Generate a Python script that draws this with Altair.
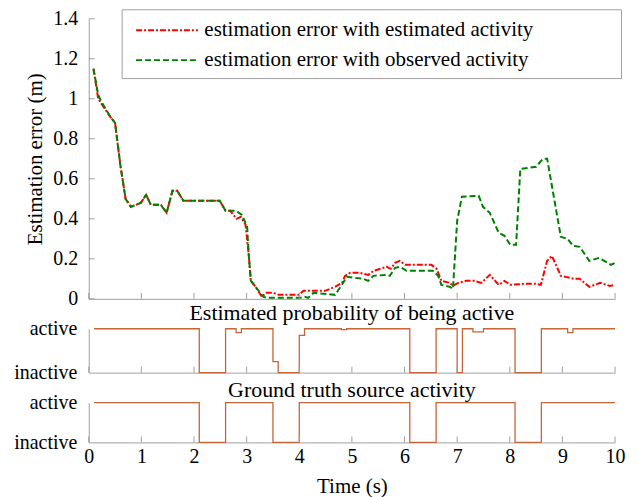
import altair as alt
import pandas as pd

FONT = "Liberation Serif"
GREY = "#a0a0a0"
STEP = "#c5653a"

# estimation error (m) with the estimated activity
est_t = [0.09, 0.18, 0.23, 0.41, 0.50, 0.60, 0.70, 0.80, 0.99, 1.09, 1.18, 1.37, 1.48, 1.59,
         1.68, 1.80, 2.49, 2.60, 2.69, 2.81, 2.89, 2.98, 3.04, 3.08, 3.17, 3.29, 3.37, 3.51,
         3.61, 3.99, 4.08, 4.49, 4.68, 4.81, 4.87, 4.97, 5.15, 5.31, 5.41, 5.66, 5.74, 5.82,
         5.91, 6.01, 6.51, 6.61, 6.70, 6.86, 6.92, 7.02, 7.17, 7.33, 7.46, 7.62, 7.79, 7.90,
         8.01, 8.27, 8.50, 8.59, 8.71, 8.80, 8.97, 9.06, 9.22, 9.33, 9.51, 9.72, 9.90, 10.0]
est_err = [1.15, 1.00, 0.98, 0.91, 0.88, 0.67, 0.50, 0.46, 0.48, 0.52, 0.47, 0.47, 0.43, 0.54,
           0.54, 0.49, 0.49, 0.44, 0.44, 0.40, 0.41, 0.37, 0.22, 0.09, 0.06, 0.01, 0.03, 0.03,
           0.02, 0.02, 0.04, 0.04, 0.06, 0.08, 0.115, 0.13, 0.13, 0.12, 0.14, 0.16, 0.15, 0.18,
           0.19, 0.17, 0.17, 0.15, 0.09, 0.08, 0.065, 0.08, 0.09, 0.09, 0.08, 0.12, 0.07, 0.09,
           0.07, 0.075, 0.075, 0.07, 0.19, 0.215, 0.115, 0.11, 0.10, 0.10, 0.06, 0.08, 0.065, 0.07]

# estimation error (m) with the observed activity
obs_t = [0.09, 0.18, 0.23, 0.41, 0.50, 0.60, 0.70, 0.80, 0.99, 1.09, 1.18, 1.37, 1.48, 1.59,
         1.68, 1.80, 2.49, 2.60, 2.80, 2.91, 3.01, 3.04, 3.08, 3.17, 3.32, 3.40, 4.00, 4.11,
         4.17, 4.27, 4.68, 4.81, 4.90, 5.22, 5.31, 5.41, 5.66, 5.72, 5.82, 5.91, 6.04, 6.54,
         6.64, 6.70, 6.86, 6.92, 7.00, 7.09, 7.41, 7.49, 7.62, 7.79, 7.90, 8.01, 8.12, 8.20,
         8.50, 8.63, 8.71, 8.97, 9.10, 9.20, 9.33, 9.51, 9.70, 9.92, 10.0]
obs_err = [1.15, 1.02, 0.99, 0.91, 0.88, 0.67, 0.50, 0.46, 0.48, 0.52, 0.47, 0.47, 0.43, 0.54,
           0.54, 0.49, 0.49, 0.44, 0.44, 0.42, 0.36, 0.22, 0.09, 0.06, 0.01, 0.005, 0.005, 0.01,
           0.005, 0.03, 0.02, 0.07, 0.11, 0.10, 0.09, 0.115, 0.12, 0.115, 0.155, 0.16, 0.14, 0.14,
           0.115, 0.07, 0.06, 0.05, 0.39, 0.51, 0.515, 0.46, 0.43, 0.33, 0.315, 0.27, 0.27, 0.65,
           0.66, 0.70, 0.70, 0.31, 0.30, 0.265, 0.26, 0.19, 0.205, 0.17, 0.18]

# estimated probability of being active (step changes)
prob_t = [0.1, 2.1, 2.6, 2.8, 2.9, 3.5, 3.6, 4.0, 4.1, 4.8, 4.9, 6.1, 6.6, 7.0, 7.1, 7.3,
          7.5, 8.1, 8.6, 9.1, 9.2, 10.0]
prob_v = [1, 0, 1, 0.91, 1, 0.25, 0, 0.85, 1, 0.98, 1, 0, 1, 0, 1, 0.93, 1, 0, 1, 0.91, 1, 1]

# ground truth activity
gt_t = [0.1, 2.1, 2.6, 3.5, 4.0, 6.1, 6.6, 8.1, 8.6, 10.0]
gt_v = [1, 0, 1, 0, 1, 0, 1, 0, 1, 1]

series = ["estimation error with estimated activity",
          "estimation error with observed activity"]
series_colors = ["#ff0000", "#008000"]
series_dash = [[6, 2, 2, 2], [6, 3]]
state_labels = ["inactive", "active"]
x_ticks = list(range(11))
y_ticks = [0, 0.2, 0.4, 0.6, 0.8, 1.0, 1.2, 1.4]

W = 528
H_TOP, H_MID, H_BOT = 281, 44, 40

err = pd.concat([
    pd.DataFrame({"t": est_t, "err": est_err, "series": series[0]}),
    pd.DataFrame({"t": obs_t, "err": obs_err, "series": series[1]}),
])
xs = alt.Scale(domain=[0, 10], nice=False)
state_expr = f"datum.value == 1 ? '{state_labels[1]}' : '{state_labels[0]}'"


def xticks(h):
    return alt.Chart(pd.DataFrame({"t": x_ticks})).mark_rule(color=GREY).encode(
        x="t:Q", y=alt.value(h), y2=alt.value(h - 6))


def panel_title(text, offset):
    return alt.TitleParams(text, font=FONT, fontSize=22, fontWeight="normal",
                           color="black", offset=offset, frame="group")


lines = alt.Chart(err).mark_line(strokeWidth=2).encode(
    x=alt.X("t:Q", scale=xs, axis=alt.Axis(labels=False, ticks=False, title=None)),
    y=alt.Y("err:Q", scale=alt.Scale(domain=[0, 1.4], nice=False),
            axis=alt.Axis(values=y_ticks, format="~g", ticks=False, labelPadding=11,
                          title="Estimation error (m)", titlePadding=7)),
    color=alt.Color("series:N", scale=alt.Scale(domain=series, range=series_colors), legend=None),
    strokeDash=alt.StrokeDash("series:N", scale=alt.Scale(domain=series, range=series_dash),
                              legend=None),
)
yticks = alt.Chart(pd.DataFrame({"v": y_ticks})).mark_rule(color=GREY).encode(
    y="v:Q", x=alt.value(0), x2=alt.value(6))

frame = alt.Chart(pd.DataFrame({"a": [0]})).mark_rect(
    fill="white", stroke=GREY, strokeWidth=1).encode(
    x=alt.value(33.5), x2=alt.value(534.5), y=alt.value(-9), y2=alt.value(60))
legend_layers = []
for i, name in enumerate(series):
    yy = 11.5 + 30 * i
    legend_layers.append(
        alt.Chart(pd.DataFrame({"a": [0]})).mark_rule(
            color=series_colors[i], strokeDash=series_dash[i], strokeWidth=2).encode(
            x=alt.value(47.5), x2=alt.value(109.5), y=alt.value(yy)))
    legend_layers.append(
        alt.Chart(pd.DataFrame({"a": [0]})).mark_text(
            align="left", baseline="middle", font=FONT, fontSize=21, color="black").encode(
            x=alt.value(116), y=alt.value(yy), text=alt.value(name)))

top = alt.layer(lines, yticks, xticks(H_TOP), frame, *legend_layers).properties(
    width=W, height=H_TOP)

state_axis = alt.Axis(values=[0, 1], labelExpr=state_expr, ticks=False, title=None,
                      labelPadding=12)

mid_line = alt.Chart(pd.DataFrame({"t": prob_t, "p": prob_v})).mark_line(
    interpolate="step-after", color=STEP, strokeWidth=1.3).encode(
    x=alt.X("t:Q", scale=xs, axis=alt.Axis(labels=False, ticks=False, title=None)),
    y=alt.Y("p:Q", scale=alt.Scale(domain=[0, 1], nice=False), axis=state_axis),
)
mid = alt.layer(mid_line, xticks(H_MID)).properties(
    width=W, height=H_MID,
    title=panel_title("Estimated probability of being active", -6))

bot_line = alt.Chart(pd.DataFrame({"t": gt_t, "g": gt_v})).mark_line(
    interpolate="step-after", color=STEP, strokeWidth=1.3).encode(
    x=alt.X("t:Q", scale=xs,
            axis=alt.Axis(values=x_ticks, format="d", ticks=False, labelFlush=False,
                          labelPadding=4, title="Time (s)", titlePadding=9)),
    y=alt.Y("g:Q", scale=alt.Scale(domain=[0, 1], nice=False), axis=state_axis),
)
bot = alt.layer(bot_line, xticks(H_BOT)).properties(
    width=W, height=H_BOT,
    title=panel_title("Ground truth source activity", -9))

chart = alt.vconcat(top, mid, bot, spacing=30, bounds="flush").properties(
    padding={"left": 5, "top": 0, "right": 5, "bottom": 5}
).configure_view(stroke=None).configure_axis(
    labelFont=FONT, titleFont=FONT, labelFontSize=20, titleFontSize=21,
    labelColor="black", titleColor="black", titleFontWeight="normal",
    grid=False, domainColor=GREY,
)

chart.save("out.html", embed_options={"renderer": "svg", "actions": False})
